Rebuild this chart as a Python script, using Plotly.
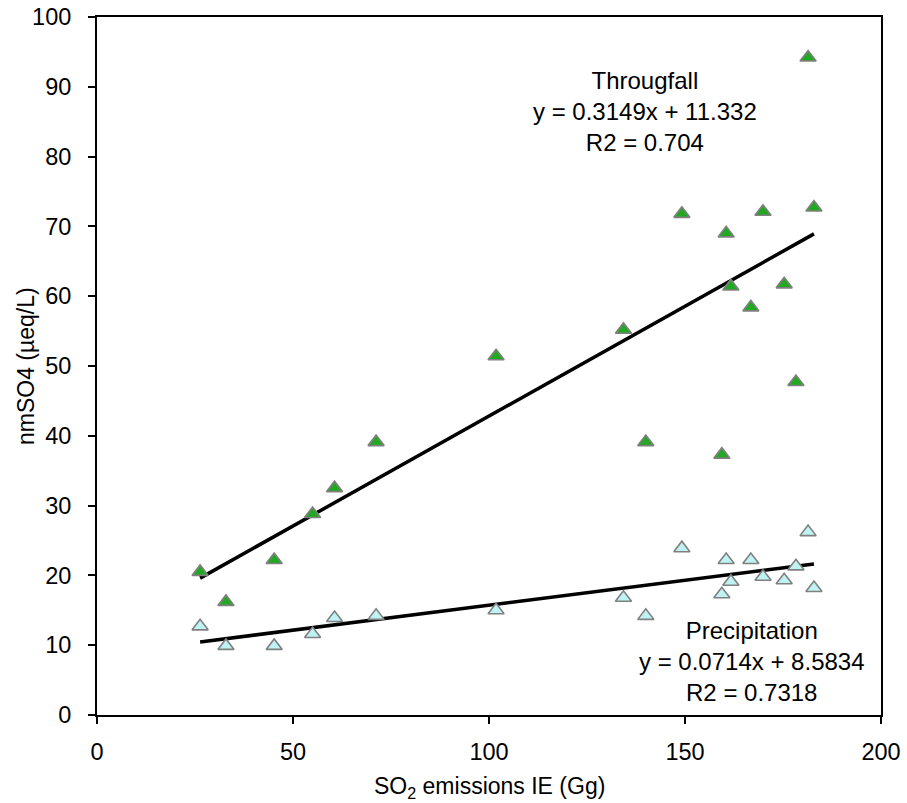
import plotly.graph_objects as go

so2_emissions = [26.3, 32.9, 45.2, 55.0, 60.6, 71.2, 101.8, 134.3, 140.0, 149.2,
                 159.4, 160.5, 161.7, 166.8, 169.9, 175.3, 178.3, 181.4, 182.9]
throughfall = [20.5, 16.2, 22.2, 28.8, 32.5, 39.1, 51.4, 55.2, 39.1, 71.8,
               37.3, 69.0, 61.4, 58.4, 72.1, 61.7, 47.7, 94.2, 72.7]
precipitation = [12.7, 9.9, 9.9, 11.6, 13.9, 14.2, 15.0, 16.8, 14.2, 23.9,
                 17.3, 22.2, 19.1, 22.2, 19.8, 19.3, 21.3, 26.2, 18.2]

tf_slope, tf_icpt = 0.3149, 11.332
pr_slope, pr_icpt = 0.0714, 8.5834

x_ticks = [0, 50, 100, 150, 200]
y_ticks = [0, 10, 20, 30, 40, 50, 60, 70, 80, 90, 100]

FONT = "Liberation Sans, Arial, sans-serif"

xmin, xmax = min(so2_emissions), max(so2_emissions)

fig = go.Figure()
fig.add_trace(go.Scatter(
    x=[xmin, xmax], y=[tf_slope * xmin + tf_icpt, tf_slope * xmax + tf_icpt],
    mode="lines", line=dict(color="black", width=3.5), showlegend=False))
fig.add_trace(go.Scatter(
    x=[xmin, xmax], y=[pr_slope * xmin + pr_icpt, pr_slope * xmax + pr_icpt],
    mode="lines", line=dict(color="black", width=3.5), showlegend=False))
fig.add_trace(go.Scatter(
    x=so2_emissions, y=throughfall, mode="markers", name="Througfall",
    marker=dict(symbol="triangle-up", size=14, color="#22a822",
                line=dict(color="#808080", width=1.6)), showlegend=False))
fig.add_trace(go.Scatter(
    x=so2_emissions, y=precipitation, mode="markers", name="Precipitation",
    marker=dict(symbol="triangle-up", size=14, color="#bff3f3",
                line=dict(color="#808080", width=1.6)), showlegend=False))

fig.add_annotation(x=139.8, y=86.4, xref="x", yref="y", showarrow=False,
                   text="Througfall<br>y = 0.3149x + 11.332<br>R2 = 0.704",
                   font=dict(family=FONT, size=24, color="black"),
                   align="center", xanchor="center", yanchor="middle")
fig.add_annotation(x=167.1, y=7.6, xref="x", yref="y", showarrow=False,
                   text="Precipitation<br>y = 0.0714x + 8.5834<br>R2 = 0.7318",
                   font=dict(family=FONT, size=24, color="black"),
                   align="center", xanchor="center", yanchor="middle")

# axis titles
fig.add_annotation(x=(26 - 97) / 784, y=0.5, xref="paper", yref="paper", showarrow=False,
                   text="nmSO4 (µeq/L)", textangle=-90,
                   font=dict(family=FONT, size=23, color="black"),
                   xanchor="center", yanchor="middle")
fig.add_annotation(x=0.5, y=(715 - 787) / 698, xref="paper", yref="paper", showarrow=False,
                   text="SO<sub>2</sub> emissions IE (Gg)",
                   font=dict(family=FONT, size=23, color="black"),
                   xanchor="center", yanchor="middle")

axis_common = dict(showline=True, linecolor="black", linewidth=2, mirror=True,
                   ticks="outside", ticklen=7, tickwidth=2, tickcolor="black",
                   showgrid=False, zeroline=False, automargin=False,
                   tickfont=dict(family=FONT, size=23.5, color="black"))

fig.update_xaxes(range=[0, 200], tickvals=x_ticks, ticktext=[str(v) for v in x_ticks],
                 ticklabelstandoff=8, **axis_common)
fig.update_yaxes(range=[0, 100], tickvals=y_ticks, ticktext=[str(v) for v in y_ticks],
                 ticklabelstandoff=12, **axis_common)

fig.update_layout(width=907, height=803, margin=dict(l=97, r=26, t=17, b=88),
                  plot_bgcolor="white", paper_bgcolor="white",
                  font=dict(family=FONT, color="black"))

fig.write_html("out.html")
